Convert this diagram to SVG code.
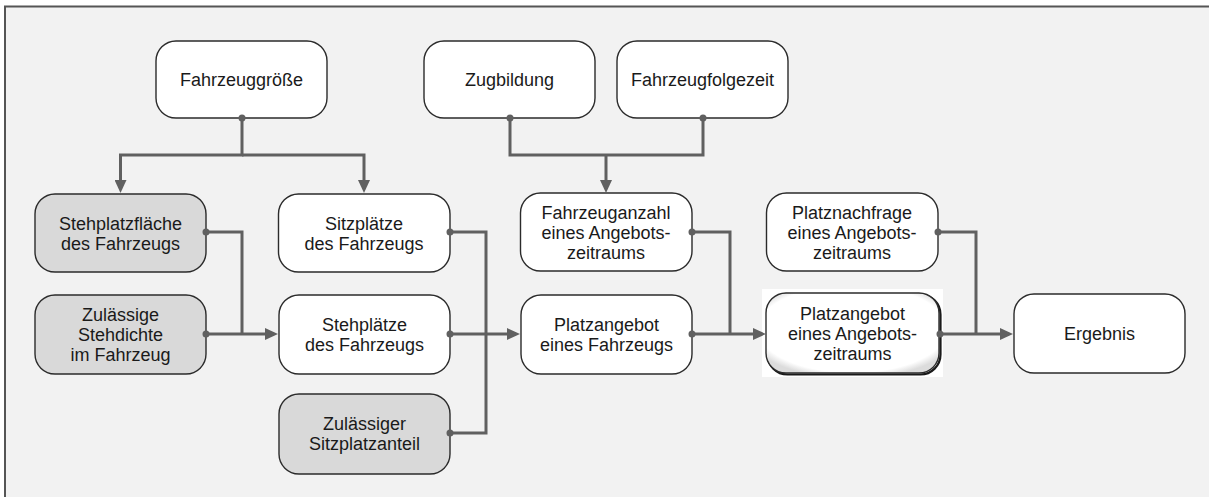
<svg xmlns="http://www.w3.org/2000/svg" width="1209" height="497" viewBox="0 0 1209 497">
  <style>
    .box { fill: #ffffff; stroke: #2b2b2b; stroke-width: 1.4; }
    .grey { fill: #d9d9d9; }
    .lbl { font-family: "Liberation Sans", Arial, sans-serif; font-size: 18px; fill: #1a1a1a; text-anchor: middle; }
    .wire { fill: none; stroke: #606060; stroke-width: 3; }
    .dot { fill: #606060; }
  </style>
  <defs>
    <marker id="arrow" markerUnits="userSpaceOnUse" markerWidth="14" markerHeight="12" refX="9" refY="6" orient="auto">
      <path d="M0,0 L13,6 L0,12 Z" fill="#606060"/>
    </marker>
    <radialGradient id="bevel" cx="0.5" cy="0.45" r="0.62">
      <stop offset="0.88" stop-color="#ffffff"/>
      <stop offset="1" stop-color="#dcdcdc"/>
    </radialGradient>
  </defs>

  <!-- panel -->
  <rect x="0" y="0" width="1209" height="497" fill="#ffffff"/>
  <rect x="5" y="6.5" width="1210" height="500" fill="#f2f2f2"/>
  <path d="M5,497 V6.5 H1209" fill="none" stroke="#555555" stroke-width="2"/>

  <!-- nodes -->
  <g id="fahrzeuggroesse">
    <rect class="box" x="156" y="41" width="171" height="77" rx="20"/>
    <text class="lbl" x="241.5" y="86">Fahrzeuggröße</text>
  </g>
  <g id="zugbildung">
    <rect class="box" x="424" y="41" width="171" height="77" rx="20"/>
    <text class="lbl" x="509.5" y="86">Zugbildung</text>
  </g>
  <g id="fahrzeugfolgezeit">
    <rect class="box" x="617" y="41" width="171" height="77" rx="20"/>
    <text class="lbl" x="702.5" y="86">Fahrzeugfolgezeit</text>
  </g>
  <g id="stehplatzflaeche">
    <rect class="box grey" x="35" y="194" width="171" height="78" rx="20"/>
    <text class="lbl" x="120.5" y="229.5">Stehplatzfläche</text>
    <text class="lbl" x="120.5" y="249.5">des Fahrzeugs</text>
  </g>
  <g id="sitzplaetze">
    <rect class="box" x="278.5" y="194" width="171.5" height="78" rx="20"/>
    <text class="lbl" x="364" y="229.5">Sitzplätze</text>
    <text class="lbl" x="364" y="249.5">des Fahrzeugs</text>
  </g>
  <g id="stehdichte">
    <rect class="box grey" x="35" y="295" width="171" height="79" rx="20"/>
    <text class="lbl" x="120.5" y="321">Zulässige</text>
    <text class="lbl" x="120.5" y="341">Stehdichte</text>
    <text class="lbl" x="120.5" y="361">im Fahrzeug</text>
  </g>
  <g id="stehplaetze">
    <rect class="box" x="279" y="295" width="171" height="79" rx="20"/>
    <text class="lbl" x="364.5" y="331">Stehplätze</text>
    <text class="lbl" x="364.5" y="351">des Fahrzeugs</text>
  </g>
  <g id="sitzplatzanteil">
    <rect class="box grey" x="279" y="394" width="171" height="80" rx="20"/>
    <text class="lbl" x="364.5" y="430">Zulässiger</text>
    <text class="lbl" x="364.5" y="450">Sitzplatzanteil</text>
  </g>
  <g id="fahrzeuganzahl">
    <rect class="box" x="520.5" y="193" width="171.5" height="78" rx="20"/>
    <text class="lbl" x="606" y="218.5">Fahrzeuganzahl</text>
    <text class="lbl" x="606" y="238.5">eines Angebots-</text>
    <text class="lbl" x="606" y="258.5">zeitraums</text>
  </g>
  <g id="platzangebot-fahrzeug">
    <rect class="box" x="521" y="295" width="171" height="79" rx="20"/>
    <text class="lbl" x="606.5" y="331">Platzangebot</text>
    <text class="lbl" x="606.5" y="351">eines Fahrzeugs</text>
  </g>
  <g id="platznachfrage">
    <rect class="box" x="766.5" y="193" width="171.5" height="78" rx="20"/>
    <text class="lbl" x="852" y="218.5">Platznachfrage</text>
    <text class="lbl" x="852" y="238.5">eines Angebots-</text>
    <text class="lbl" x="852" y="258.5">zeitraums</text>
  </g>
  <g id="platzangebot-zeitraum">
    <rect x="762" y="289" width="181" height="88" fill="#ffffff"/>
    <rect x="767.5" y="294.5" width="173" height="80" rx="20" fill="none" stroke="#1a1a1a" stroke-width="2.2"/>
    <rect x="766" y="293" width="173" height="80" rx="20" fill="url(#bevel)" stroke="#2b2b2b" stroke-width="1.4"/>
    <text class="lbl" x="852.5" y="319.5">Platzangebot</text>
    <text class="lbl" x="852.5" y="339.5">eines Angebots-</text>
    <text class="lbl" x="852.5" y="359.5">zeitraums</text>
  </g>
  <g id="ergebnis">
    <rect class="box" x="1014" y="294" width="171" height="79" rx="20"/>
    <text class="lbl" x="1099.5" y="340">Ergebnis</text>
  </g>

  <!-- connectors, drawn over the box outlines so the start dots show in full -->
  <g id="connectors">
    <path class="wire" d="M242,118 V155 H120.5 V189" marker-end="url(#arrow)"/>
    <path class="wire" d="M242,155 H364 V189" marker-end="url(#arrow)"/>
    <path class="wire" d="M510,118 V155 H703 V118"/>
    <path class="wire" d="M606,155 V189" marker-end="url(#arrow)"/>
    <path class="wire" d="M206,232 H242 V334"/>
    <path class="wire" d="M206,334 H274" marker-end="url(#arrow)"/>
    <path class="wire" d="M450,232 H486 V433 H450"/>
    <path class="wire" d="M450,334 H516" marker-end="url(#arrow)"/>
    <path class="wire" d="M692,232 H730 V334"/>
    <path class="wire" d="M692,334 H762" marker-end="url(#arrow)"/>
    <path class="wire" d="M938,232 H976 V334"/>
    <path class="wire" d="M940,334 H1009" marker-end="url(#arrow)"/>
    <circle class="dot" cx="242" cy="118" r="3.5"/>
    <circle class="dot" cx="510" cy="118" r="3.5"/>
    <circle class="dot" cx="703" cy="118" r="3.5"/>
    <circle class="dot" cx="206" cy="232" r="3.5"/>
    <circle class="dot" cx="206" cy="334" r="3.5"/>
    <circle class="dot" cx="450" cy="232" r="3.5"/>
    <circle class="dot" cx="450" cy="334" r="3.5"/>
    <circle class="dot" cx="450" cy="433" r="3.5"/>
    <circle class="dot" cx="692" cy="232" r="3.5"/>
    <circle class="dot" cx="692" cy="334" r="3.5"/>
    <circle class="dot" cx="938" cy="232" r="3.5"/>
    <circle class="dot" cx="940" cy="334" r="3.5"/>
  </g>
</svg>
